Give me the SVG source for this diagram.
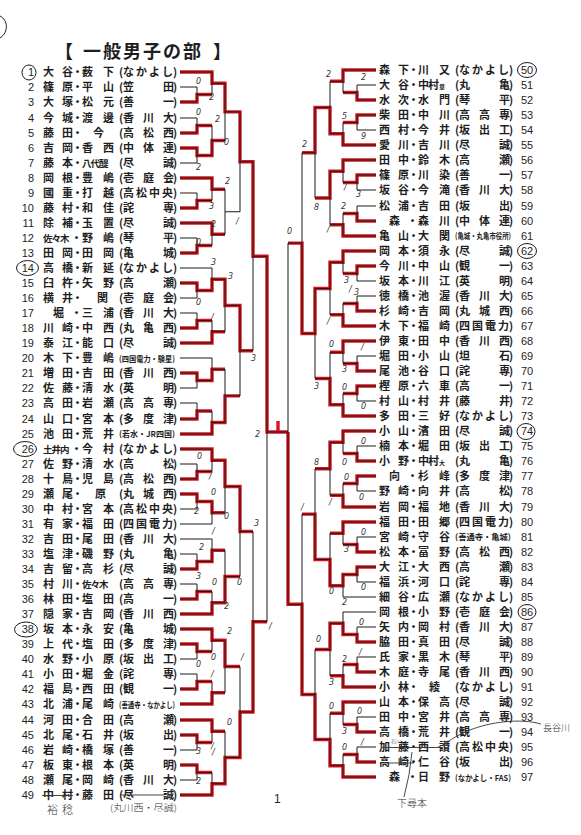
<svg xmlns="http://www.w3.org/2000/svg" width="581" height="835" viewBox="0 0 581 835">
<style>
.t{font-family:"Noto Sans CJK JP","Noto Sans CJK SC",sans-serif;font-size:11px;font-weight:700;fill:#1e1e1e}
.k{font-size:9.5px}
.k2{font-size:6px}
.s{font-family:"Noto Sans CJK JP","Noto Sans CJK SC",sans-serif;font-size:8px;font-weight:700;fill:#1e1e1e}
.nl{font-family:"Liberation Sans",Arial,sans-serif;font-size:11px;fill:#1e1e1e;text-anchor:end}
.nr{font-family:"Liberation Sans",Arial,sans-serif;font-size:11px;fill:#1e1e1e}
.hw{font-family:"DejaVu Sans",sans-serif;font-size:8px;font-style:italic;fill:#333}
.hn{font-family:"Noto Sans CJK JP",sans-serif;font-weight:300;fill:#333}
.ln{fill:none;stroke:#1a1a1a;stroke-width:1}
.rd{fill:none;stroke:#d9161e;stroke-width:3.4}
.ci{fill:none;stroke:#1a1a1a;stroke-width:1}
.pen{fill:none;stroke:#333;stroke-width:0.9}
</style>
<rect width="581" height="835" fill="#fff"/>
<g id="title"><text class="t" style="font-size:18px" x="55 83 103 123 143 163 183 213" y="57.5">【一般男子の部】</text></g>
<path class="ci" d="M0,16 C8,20 9,32 0,38"/>
<g id="connectors">
<g class="rd">
<path d="M180,72H212V83.25H225V111.9H240V161.8H253V256.25H267V432H288"/>
<path d="M180,102H197V94.5H212M180,133H197V125.5H212M180,148H197V155.5H212V140.5H225M180,208H197V200.5H212M180,178H212V189.25H225M180,253H197V245.5H212M180,223H212V234.25H225"/>
<path d="M180,283H197V290.5H212V279.25H225V305.5H240V350.7H253M180,328H197V320.5H212M180,343H212V331.75H225M180,373H197V380.5H212V369.25H225M180,419H197V411H212M180,434H212V422.5H225V395.9H240"/>
<path d="M180,449H212V460.25H225V486.5H240V531.5H253M180,479H197V471.5H212M180,494H197V501.5H212V512.75H225M180,569H197V561.5H212V550.25H225M180,599H197V591.5H212M180,614H212V602.75H225V576.5H240"/>
<path d="M180,629H212V640.25H225V666.5H240M180,644H197V651.5H212M180,689H197V681.5H212M180,704H212V692.75H225M180,720H212V731.25H225M180,735H197V742.5H212M180,765H197V772.5H212M180,795H212V783.75H225V757.5H240V712H253V621.75H267"/>
<path d="M376,70H343V81.25H330M376,100H357V92.5H343M376,115H357V122.5H343M376,145H343V133.75H330V107.5H315V152.75H302M376,160H343V171.25H330V198H315M376,175H357V182.5H343M376,221H357V213.5H343M376,236H343V224.75H330"/>
<path d="M376,251H343V262.25H330V288.5H315V333.5H302V243.1H288M376,266H357V273.5H343M376,311H357V303.5H343M376,326H343V314.75H330M376,341H343V352.25H330M376,371H357V363.5H343M376,386H357V393.5H343M376,416H343V404.75H330V378.5H315"/>
<path d="M376,431H343V442.25H330V468.75H315M376,461H357V453.5H343M376,476H357V483.5H343M376,507H343V495.25H330M376,522H343V533.25H330M376,552H357V544.5H343M376,567H357V574.5H343V585.75H330V559.5H315V514.1H302"/>
<path d="M376,642H357V634.5H343V623.25H330V649.5H315M376,672H357V664.5H343M376,687H343V675.75H330M376,702H343V713.25H330M376,732H357V724.5H343M376,762H357V754.5H343M376,777H343V765.75H330V739.5H315V694.5H302V604.3H288V432M278,432V421"/>
</g>
<g class="ln">
<path d="M180,72H212M180,87H197M180,102H197M180,118H197M180,133H197M180,148H197M180,163H197M180,178H212M180,193H197M180,208H197M180,223H212M180,238H197M180,253H197M197,87V102M197,94.5H212M197,118V133M197,125.5H212M197,148V163M197,155.5H212M197,193V208M197,200.5H212M197,238V253M197,245.5H212M212,72V94.5M212,83.25H225M212,125.5V155.5M212,140.5H225M212,178V200.5M212,189.25H225M212,223V245.5M212,234.25H225M225,83.25V140.5M225,111.9H240M225,189.25V234.25M225,211.75H240M240,111.9V211.75M240,161.8H253"/>
<path d="M180,268H212M180,283H197M180,298H197M180,313H197M180,328H197M180,343H212M180,358H212M180,373H197M180,388H197M180,403H197M180,419H197M180,434H212M197,283V298M197,290.5H212M197,313V328M197,320.5H212M197,373V388M197,380.5H212M197,403V419M197,411H212M212,268V290.5M212,279.25H225M212,320.5V343M212,331.75H225M212,358V380.5M212,369.25H225M212,411V434M212,422.5H225M225,279.25V331.75M225,305.5H240M225,369.25V422.5M225,395.9H240M240,305.5V395.9M240,350.7H253"/>
<path d="M180,449H212M180,464H197M180,479H197M180,494H197M180,509H197M180,524H212M180,539H212M180,554H197M180,569H197M180,584H197M180,599H197M180,614H212M197,464V479M197,471.5H212M197,494V509M197,501.5H212M197,554V569M197,561.5H212M197,584V599M197,591.5H212M212,449V471.5M212,460.25H225M212,501.5V524M212,512.75H225M212,539V561.5M212,550.25H225M212,591.5V614M212,602.75H225M225,460.25V512.75M225,486.5H240M225,550.25V602.75M225,576.5H240M240,486.5V576.5M240,531.5H253"/>
<path d="M180,629H212M180,644H197M180,659H197M180,674H197M180,689H197M180,704H212M180,720H212M180,735H197M180,750H197M180,765H197M180,780H197M180,795H212M197,644V659M197,651.5H212M197,674V689M197,681.5H212M197,735V750M197,742.5H212M197,765V780M197,772.5H212M212,629V651.5M212,640.25H225M212,681.5V704M212,692.75H225M212,720V742.5M212,731.25H225M212,772.5V795M212,783.75H225M225,640.25V692.75M225,666.5H240M225,731.25V783.75M225,757.5H240M240,666.5V757.5M240,712H253"/>
<path d="M253,161.8V350.7M253,256.25H267M253,531.5V712M253,621.75H267M267,256.25V621.75M267,432H288"/>
<path d="M376,70H343M376,85H357M376,100H357M376,115H357M376,130H357M376,145H343M376,160H343M376,175H357M376,190H357M376,206H357M376,221H357M376,236H343M357,85V100M357,92.5H343M357,115V130M357,122.5H343M357,175V190M357,182.5H343M357,206V221M357,213.5H343M343,70V92.5M343,81.25H330M343,122.5V145M343,133.75H330M343,160V182.5M343,171.25H330M343,213.5V236M343,224.75H330M330,81.25V133.75M330,107.5H315M330,171.25V224.75M330,198H315M315,107.5V198M315,152.75H302"/>
<path d="M376,251H343M376,266H357M376,281H357M376,296H357M376,311H357M376,326H343M376,341H343M376,356H357M376,371H357M376,386H357M376,401H357M376,416H343M357,266V281M357,273.5H343M357,296V311M357,303.5H343M357,356V371M357,363.5H343M357,386V401M357,393.5H343M343,251V273.5M343,262.25H330M343,303.5V326M343,314.75H330M343,341V363.5M343,352.25H330M343,393.5V416M343,404.75H330M330,262.25V314.75M330,288.5H315M330,352.25V404.75M330,378.5H315M315,288.5V378.5M315,333.5H302"/>
<path d="M376,431H343M376,446H357M376,461H357M376,476H357M376,491H357M376,507H343M376,522H343M376,537H357M376,552H357M376,567H357M376,582H357M376,597H343M357,446V461M357,453.5H343M357,476V491M357,483.5H343M357,537V552M357,544.5H343M357,567V582M357,574.5H343M343,431V453.5M343,442.25H330M343,483.5V507M343,495.25H330M343,522V544.5M343,533.25H330M343,574.5V597M343,585.75H330M330,442.25V495.25M330,468.75H315M330,533.25V585.75M330,559.5H315M315,468.75V559.5M315,514.1H302"/>
<path d="M376,612H343M376,627H357M376,642H357M376,657H357M376,672H357M376,687H343M376,702H343M376,717H357M376,732H357M376,747H357M376,762H357M376,777H343M357,627V642M357,634.5H343M357,657V672M357,664.5H343M357,717V732M357,724.5H343M357,747V762M357,754.5H343M343,612V634.5M343,623.25H330M343,664.5V687M343,675.75H330M343,702V724.5M343,713.25H330M343,754.5V777M343,765.75H330M330,623.25V675.75M330,649.5H315M330,713.25V765.75M330,739.5H315M315,649.5V739.5M315,694.5H302"/>
<path d="M302,152.75V333.5M302,243.1H288M302,514.1V694.5M302,604.3H288M288,243.1V604.3"/>
</g>
</g>
<g id="players">
<g id="p1"><text class="nl" x="34" y="76.3">1</text><ellipse class="ci" cx="29" cy="72.5" rx="7" ry="7.5"/><text class="t" x="43 62 72 82 103 119 123 136 149 162 173" y="76.3">大谷・薮下(なかよし)</text></g>
<g id="p2"><text class="nl" x="34" y="91.4">2</text><text class="t" x="43 62 72 82 103 119 123 163 173" y="91.4">篠原・平山(笠田)</text></g>
<g id="p3"><text class="nl" x="34" y="106.4">3</text><text class="t" x="43 62 72 82 103 119 123 163 173" y="106.4">大塚・松元(善一)</text></g>
<g id="p4"><text class="nl" x="34" y="121.5">4</text><text class="t" x="43 62 72 82 103 119 123 143 163 173" y="121.5">今城・渡邊(香川大)</text></g>
<g id="p5"><text class="nl" x="34" y="136.5">5</text><text class="t" x="43 62 72 93 119 123 143 163 173" y="136.5">藤田・今(高松西)</text></g>
<g id="p6"><text class="nl" x="34" y="151.6">6</text><text class="t" x="43 62 72 82 103 119 123 143 163 173" y="151.6">吉岡・香西(中体連)</text></g>
<g id="p7"><text class="nl" x="34" y="166.6">7</text><text class="t" y="166.6"><tspan x="43 62 72">藤本・</tspan><tspan class="k" x="82 90.5 99">八代醍</tspan><tspan x="119 123 163 173">(尽誠)</tspan></text></g>
<g id="p8"><text class="nl" x="34" y="181.7">8</text><text class="t" x="43 62 72 82 103 119 123 143 163 173" y="181.7">岡根・豊嶋(壱庭会)</text></g>
<g id="p9"><text class="nl" x="34" y="196.7">9</text><text class="t" x="43 62 72 82 103 119 123 136 149 162 173" y="196.7">國重・打越(高松中央)</text></g>
<g id="p10"><text class="nl" x="34" y="211.8">10</text><text class="t" x="43 62 72 82 103 119 123 163 173" y="211.8">藤村・和佳(詫専)</text></g>
<g id="p11"><text class="nl" x="34" y="226.8">11</text><text class="t" x="43 62 72 82 103 119 123 163 173" y="226.8">除補・玉置(尽誠)</text></g>
<g id="p12"><text class="nl" x="34" y="241.9">12</text><text class="t" y="241.9"><tspan class="k" x="43 51.5 60">佐々木</tspan><tspan x="71 82 103 119 123 163 173">・野嶋(琴平)</tspan></text></g>
<g id="p13"><text class="nl" x="34" y="256.9">13</text><text class="t" x="43 62 72 82 103 119 123 163 173" y="256.9">田岡・田岡(亀城)</text></g>
<g id="p14"><text class="nl" x="34" y="272">14</text><ellipse class="ci" cx="27.5" cy="268" rx="11" ry="7.5"/><text class="t" x="43 62 72 82 103 119 123 136 149 162 173" y="272">高橋・新延(なかよし)</text></g>
<g id="p15"><text class="nl" x="34" y="287">15</text><text class="t" x="43 62 72 82 103 119 123 163 173" y="287">臼杵・矢野(高瀬)</text></g>
<g id="p16"><text class="nl" x="34" y="302.1">16</text><text class="t" x="43 62 72 97 119 123 143 163 173" y="302.1">横井・関(壱庭会)</text></g>
<g id="p17"><text class="nl" x="34" y="317.1">17</text><text class="t" x="53 71 82 103 119 123 143 163 173" y="317.1">堀・三浦(香川大)</text></g>
<g id="p18"><text class="nl" x="34" y="332.2">18</text><text class="t" x="43 62 72 82 103 119 123 143 163 173" y="332.2">川崎・中西(丸亀西)</text></g>
<g id="p19"><text class="nl" x="34" y="347.2">19</text><text class="t" x="43 62 72 82 103 119 123 163 173" y="347.2">泰江・能口(尽誠)</text></g>
<g id="p20"><text class="nl" x="34" y="362.3">20</text><text class="t" x="43 62 72 82 103" y="362.3">木下・豊嶋</text><text class="s" x="119" y="361.8" textLength="56" lengthAdjust="spacingAndGlyphs">(四国電力・験星)</text></g>
<g id="p21"><text class="nl" x="34" y="377.3">21</text><text class="t" x="43 62 72 82 103 119 123 143 163 173" y="377.3">増田・吉田(香川西)</text></g>
<g id="p22"><text class="nl" x="34" y="392.4">22</text><text class="t" x="43 62 72 82 103 119 123 163 173" y="392.4">佐藤・清水(英明)</text></g>
<g id="p23"><text class="nl" x="34" y="407.4">23</text><text class="t" x="43 62 72 82 103 119 123 143 163 173" y="407.4">高田・岩瀬(高高専)</text></g>
<g id="p24"><text class="nl" x="34" y="422.5">24</text><text class="t" x="43 62 72 82 103 119 123 143 163 173" y="422.5">山口・宮本(多度津)</text></g>
<g id="p25"><text class="nl" x="34" y="437.5">25</text><text class="t" x="43 62 72 82 103" y="437.5">池田・荒井</text><text class="s" x="119" y="437" textLength="56" lengthAdjust="spacingAndGlyphs">(若水・JR四国)</text></g>
<g id="p26"><text class="nl" x="34" y="452.6">26</text><ellipse class="ci" cx="25" cy="449" rx="11.5" ry="7.5"/><text class="t" y="452.6"><tspan class="k" x="43 51.5 60">土井内</tspan><tspan x="71 82 103 119 123 136 149 162 173">・今村(なかよし)</tspan></text></g>
<g id="p27"><text class="nl" x="34" y="467.6">27</text><text class="t" x="43 62 72 82 103 119 123 163 173" y="467.6">佐野・清水(高松)</text></g>
<g id="p28"><text class="nl" x="34" y="482.7">28</text><text class="t" x="43 62 72 82 103 119 123 143 163 173" y="482.7">十鳥・児島(高松西)</text></g>
<g id="p29"><text class="nl" x="34" y="497.7">29</text><text class="t" x="43 62 72 95 119 123 143 163 173" y="497.7">瀬尾・原(丸城西)</text></g>
<g id="p30"><text class="nl" x="34" y="512.8">30</text><text class="t" x="43 62 72 82 103 119 123 136 149 162 173" y="512.8">中村・宮本(高松中央)</text></g>
<g id="p31"><text class="nl" x="34" y="527.8">31</text><text class="t" x="43 62 72 82 103 119 123 136 149 162 173" y="527.8">有家・福田(四国電力)</text></g>
<g id="p32"><text class="nl" x="34" y="542.9">32</text><text class="t" x="43 62 72 82 103 119 123 143 163 173" y="542.9">吉田・尾田(香川大)</text></g>
<g id="p33"><text class="nl" x="34" y="557.9">33</text><text class="t" x="43 62 72 82 103 119 123 163 173" y="557.9">塩津・磯野(丸亀)</text></g>
<g id="p34"><text class="nl" x="34" y="573">34</text><text class="t" x="43 62 72 82 103 119 123 163 173" y="573">吉留・高杉(尽誠)</text></g>
<g id="p35"><text class="nl" x="34" y="588">35</text><text class="t" y="588"><tspan x="43 62 72">村川・</tspan><tspan class="k" x="82 90.5 99">佐々木</tspan><tspan x="119 123 143 163 173">(高高専)</tspan></text></g>
<g id="p36"><text class="nl" x="34" y="603.1">36</text><text class="t" x="43 62 72 82 103 119 123 163 173" y="603.1">林田・塩田(高一)</text></g>
<g id="p37"><text class="nl" x="34" y="618.1">37</text><text class="t" x="43 62 72 82 103 119 123 143 163 173" y="618.1">隠家・吉岡(香川西)</text></g>
<g id="p38"><text class="nl" x="34" y="633.2">38</text><ellipse class="ci" cx="26" cy="629.5" rx="11.5" ry="7.5"/><text class="t" x="43 62 72 82 103 119 123 163 173" y="633.2">坂本・永安(亀城)</text></g>
<g id="p39"><text class="nl" x="34" y="648.2">39</text><text class="t" x="43 62 72 82 103 119 123 143 163 173" y="648.2">上代・塩田(多度津)</text></g>
<g id="p40"><text class="nl" x="34" y="663.3">40</text><text class="t" x="43 62 72 82 103 119 123 143 163 173" y="663.3">水野・小原(坂出工)</text></g>
<g id="p41"><text class="nl" x="34" y="678.3">41</text><text class="t" x="43 62 72 82 103 119 123 163 173" y="678.3">小田・堀金(詫専)</text></g>
<g id="p42"><text class="nl" x="34" y="693.4">42</text><text class="t" x="43 62 72 82 103 119 123 163 173" y="693.4">福島・西田(観一)</text></g>
<g id="p43"><text class="nl" x="34" y="708.4">43</text><text class="t" x="43 62 72 82 103" y="708.4">北浦・尾崎</text><text class="s" x="119" y="707.9" textLength="56" lengthAdjust="spacingAndGlyphs">(善通寺・なかよし)</text></g>
<g id="p44"><text class="nl" x="34" y="723.5">44</text><text class="t" x="43 62 72 82 103 119 123 163 173" y="723.5">河田・合田(高瀬)</text></g>
<g id="p45"><text class="nl" x="34" y="738.5">45</text><text class="t" x="43 62 72 82 103 119 123 163 173" y="738.5">北尾・石井(坂出)</text></g>
<g id="p46"><text class="nl" x="34" y="753.6">46</text><text class="t" x="43 62 72 82 103 119 123 163 173" y="753.6">岩崎・橋塚(善一)</text></g>
<g id="p47"><text class="nl" x="34" y="768.6">47</text><text class="t" x="43 62 72 82 103 119 123 163 173" y="768.6">板東・根本(英明)</text></g>
<g id="p48"><text class="nl" x="34" y="783.7">48</text><text class="t" x="43 62 72 82 103 119 123 143 163 173" y="783.7">瀬尾・岡崎(香川大)</text></g>
<g id="p49"><text class="nl" x="34" y="798.7">49</text><text class="t" x="43 62 72 82 103 119 123 163 173" y="798.7">中村・藤田(尽誠)</text><path class="pen" d="M42,795.5H73M121,795H164"/></g>

<g id="p50"><text class="t" x="379 398 408 418 439 455 459 472 485 498 509" y="74">森下・川又(なかよし)</text><text class="nr" x="521" y="74">50</text><ellipse class="ci" cx="527" cy="70" rx="9.5" ry="7.5"/></g>
<g id="p51"><text class="t" y="89.1"><tspan x="379 398 408 418 428">大谷・中村</tspan><tspan class="k2" x="439">章</tspan><tspan x="455 459 499 509">(丸亀)</tspan></text><text class="nr" x="521" y="89.1">51</text></g>
<g id="p52"><text class="t" x="379 398 408 418 439 455 459 499 509" y="104.1">水次・水門(琴平)</text><text class="nr" x="521" y="104.1">52</text></g>
<g id="p53"><text class="t" x="379 398 408 418 439 455 459 479 499 509" y="119.2">柴田・中川(高高専)</text><text class="nr" x="521" y="119.2">53</text></g>
<g id="p54"><text class="t" x="379 398 408 418 439 455 459 479 499 509" y="134.2">西村・今井(坂出工)</text><text class="nr" x="521" y="134.2">54</text></g>
<g id="p55"><text class="t" x="379 398 408 418 439 455 459 499 509" y="149.3">愛川・吉川(尽誠)</text><text class="nr" x="521" y="149.3">55</text></g>
<g id="p56"><text class="t" x="379 398 408 418 439 455 459 499 509" y="164.3">田中・鈴木(高瀬)</text><text class="nr" x="521" y="164.3">56</text></g>
<g id="p57"><text class="t" x="379 398 408 418 439 455 459 499 509" y="179.4">篠原・川染(善一)</text><text class="nr" x="521" y="179.4">57</text></g>
<g id="p58"><text class="t" x="379 398 408 418 439 455 459 479 499 509" y="194.4">坂谷・今滝(香川大)</text><text class="nr" x="521" y="194.4">58</text></g>
<g id="p59"><text class="t" x="379 398 408 418 439 455 459 499 509" y="209.5">松浦・吉田(坂出)</text><text class="nr" x="521" y="209.5">59</text></g>
<g id="p60"><text class="t" x="389 407 418 439 455 459 479 499 509" y="224.5">森・森川(中体連)</text><text class="nr" x="521" y="224.5">60</text></g>
<g id="p61"><text class="t" x="379 398 408 418 439" y="239.6">亀山・大関</text><text class="s" x="455" y="239.1" textLength="56" lengthAdjust="spacingAndGlyphs">(亀城・丸亀市役所)</text><text class="nr" x="521" y="239.6">61</text></g>
<g id="p62"><text class="t" x="379 398 408 418 439 455 459 499 509" y="254.6">岡本・須永(尽誠)</text><text class="nr" x="521" y="254.6">62</text><ellipse class="ci" cx="527" cy="251" rx="9.5" ry="7.5"/></g>
<g id="p63"><text class="t" x="379 398 408 418 439 455 459 499 509" y="269.7">今川・中山(観一)</text><text class="nr" x="521" y="269.7">63</text></g>
<g id="p64"><text class="t" x="379 398 408 418 439 455 459 499 509" y="284.7">坂本・川江(英明)</text><text class="nr" x="521" y="284.7">64</text></g>
<g id="p65"><text class="t" x="379 398 408 418 439 455 459 479 499 509" y="299.8">徳橋・池渥(香川大)</text><text class="nr" x="521" y="299.8">65</text></g>
<g id="p66"><text class="t" x="379 398 408 418 439 455 459 479 499 509" y="314.8">杉崎・吉岡(丸城西)</text><text class="nr" x="521" y="314.8">66</text></g>
<g id="p67"><text class="t" x="379 398 408 418 439 455 459 472 485 498 509" y="329.9">木下・福崎(四国電力)</text><text class="nr" x="521" y="329.9">67</text></g>
<g id="p68"><text class="t" x="379 398 408 418 439 455 459 479 499 509" y="344.9">伊東・田中(香川西)</text><text class="nr" x="521" y="344.9">68</text></g>
<g id="p69"><text class="t" x="379 398 408 418 439 455 459 499 509" y="360">堀田・小山(坦石)</text><text class="nr" x="521" y="360">69</text></g>
<g id="p70"><text class="t" x="379 398 408 418 439 455 459 499 509" y="375">尾池・谷口(詫専)</text><text class="nr" x="521" y="375">70</text></g>
<g id="p71"><text class="t" x="379 398 408 418 439 455 459 499 509" y="390.1">樫原・六車(高一)</text><text class="nr" x="521" y="390.1">71</text></g>
<g id="p72"><text class="t" x="379 398 408 418 439 455 459 499 509" y="405.1">村山・村井(藤井)</text><text class="nr" x="521" y="405.1">72</text></g>
<g id="p73"><text class="t" x="379 398 408 418 439 455 459 472 485 498 509" y="420.2">多田・三好(なかよし)</text><text class="nr" x="521" y="420.2">73</text></g>
<g id="p74"><text class="t" x="379 398 408 418 439 455 459 499 509" y="435.2">小山・濱田(尽誠)</text><text class="nr" x="521" y="435.2">74</text><ellipse class="ci" cx="526" cy="431.5" rx="9" ry="8"/></g>
<g id="p75"><text class="t" x="379 398 408 418 439 455 459 479 499 509" y="450.3">楠本・堀田(坂出工)</text><text class="nr" x="521" y="450.3">75</text></g>
<g id="p76"><text class="t" y="465.3"><tspan x="379 398 408 418 428">小野・中村</tspan><tspan class="k2" x="439">大</tspan><tspan x="455 459 499 509">(丸亀)</tspan></text><text class="nr" x="521" y="465.3">76</text></g>
<g id="p77"><text class="t" x="389 407 418 439 455 459 479 499 509" y="480.4">向・杉峰(多度津)</text><text class="nr" x="521" y="480.4">77</text></g>
<g id="p78"><text class="t" x="379 398 408 418 439 455 459 499 509" y="495.4">野崎・向井(高松)</text><text class="nr" x="521" y="495.4">78</text></g>
<g id="p79"><text class="t" x="379 398 408 418 439 455 459 479 499 509" y="510.5">岩岡・福地(香川大)</text><text class="nr" x="521" y="510.5">79</text></g>
<g id="p80"><text class="t" x="379 398 408 418 439 455 459 472 485 498 509" y="525.5">福田・田郷(四国電力)</text><text class="nr" x="521" y="525.5">80</text></g>
<g id="p81"><text class="t" x="379 398 408 418 439" y="540.6">宮崎・守谷</text><text class="s" x="455" y="540.1" textLength="56" lengthAdjust="spacingAndGlyphs">(善通寺・亀城)</text><text class="nr" x="521" y="540.6">81</text></g>
<g id="p82"><text class="t" x="379 398 408 418 439 455 459 479 499 509" y="555.6">松本・冨野(高松西)</text><text class="nr" x="521" y="555.6">82</text></g>
<g id="p83"><text class="t" x="379 398 408 418 439 455 459 499 509" y="570.7">大江・大西(高瀬)</text><text class="nr" x="521" y="570.7">83</text></g>
<g id="p84"><text class="t" x="379 398 408 418 439 455 459 499 509" y="585.7">福浜・河口(詫専)</text><text class="nr" x="521" y="585.7">84</text></g>
<g id="p85"><text class="t" x="379 398 408 418 439 455 459 472 485 498 509" y="600.8">細谷・広瀬(なかよし)</text><text class="nr" x="521" y="600.8">85</text></g>
<g id="p86"><text class="t" x="379 398 408 418 439 455 459 479 499 509" y="615.8">岡根・小野(壱庭会)</text><text class="nr" x="521" y="615.8">86</text><ellipse class="ci" cx="527" cy="612" rx="9" ry="7.5"/></g>
<g id="p87"><text class="t" x="379 398 408 418 439 455 459 479 499 509" y="630.9">矢内・岡村(香川大)</text><text class="nr" x="521" y="630.9">87</text></g>
<g id="p88"><text class="t" x="379 398 408 418 439 455 459 499 509" y="645.9">脇田・真田(尽誠)</text><text class="nr" x="521" y="645.9">88</text></g>
<g id="p89"><text class="t" x="379 398 408 418 439 455 459 499 509" y="661">氏家・黒木(琴平)</text><text class="nr" x="521" y="661">89</text></g>
<g id="p90"><text class="t" x="379 398 408 418 439 455 459 479 499 509" y="676">木庭・寺尾(香川西)</text><text class="nr" x="521" y="676">90</text></g>
<g id="p91"><text class="t" x="379 398 408 429 455 459 472 485 498 509" y="691.1">小林・綾(なかよし)</text><text class="nr" x="521" y="691.1">91</text></g>
<g id="p92"><text class="t" x="379 398 408 418 439 455 459 499 509" y="706.1">山本・保高(尽誠)</text><text class="nr" x="521" y="706.1">92</text></g>
<g id="p93"><text class="t" x="379 398 408 418 439 455 459 479 499 509" y="721.2">田中・宮井(高高専)</text><text class="nr" x="521" y="721.2">93</text></g>
<g id="p94"><text class="t" x="379 398 408 418 439 455 459 499 509" y="736.2">高橋・荒井(観一)</text><text class="nr" x="521" y="736.2">94</text></g>
<g id="p95"><text class="t" x="379 398 408 418 439 455 459 472 485 498 509" y="751.3">加藤・西讃(高松中央)</text><text class="nr" x="521" y="751.3">95</text><path class="pen" d="M382,747.5H442"/></g>
<g id="p96"><text class="t" x="379 398 408 418 439 455 459 499 509" y="766.3">高崎・仁谷(坂出)</text><text class="nr" x="521" y="766.3">96</text><path class="pen" d="M380,763H414"/></g>
<g id="p97"><text class="t" x="389 407 418 439" y="781.4">森・日野</text><text class="s" x="455" y="780.9" textLength="56" lengthAdjust="spacingAndGlyphs">(なかよし・FAS)</text><text class="nr" x="521" y="781.4">97</text></g>
</g>
<g id="scores" class="hw">
<text x="196" y="84">0</text><text x="209" y="100">2</text><text x="196" y="115">0</text><text x="215" y="122">2</text><text x="224" y="145">0</text><text x="196" y="170">2</text><text x="225" y="184">2</text><text x="209" y="209">3</text><text x="211" y="227">2</text><text x="196" y="245">0</text><text x="236" y="224">/</text>
<text x="211" y="265">3</text><text x="228" y="279">3</text><text x="196" y="305">0</text><text x="211" y="320">/</text><text x="251" y="361">3</text><text x="255" y="437">2</text>
<text x="197" y="459">0</text><text x="209" y="479">/</text><text x="211" y="495">0</text><text x="194" y="514">2</text><text x="224" y="519">0</text><text x="254" y="526">3</text><text x="212" y="534">/</text><text x="199" y="550">2</text><text x="196" y="579">3</text><text x="212" y="585">0</text><text x="237" y="585">0</text><text x="224" y="609">2</text><text x="269" y="629">/</text><text x="227" y="634">2</text><text x="211" y="660">0</text><text x="196" y="667">0</text><text x="211" y="677">/</text><text x="241" y="660">/</text><text x="227" y="725">0</text><text x="211" y="749">/</text><text x="196" y="754">3</text><text x="212" y="755">/</text><text x="196" y="784">2</text>
<text x="326" y="77">2</text><text x="361" y="80">2</text><text x="342" y="119">5</text><text x="361" y="139">9</text><text x="302" y="147">2</text><text x="314" y="210">8</text><text x="344" y="190">/</text><text x="356" y="197">3</text><text x="341" y="209">2</text><text x="327" y="232">/</text><text x="287" y="234">0</text>
<text x="344" y="283">3</text><text x="349" y="292">/</text><text x="354" y="295">3</text><text x="327" y="324">/</text><text x="329" y="347">0</text><text x="361" y="350">/</text><text x="342" y="372">3</text><text x="314" y="389">3</text><text x="342" y="390">0</text><text x="361" y="409">0</text>
<text x="361" y="444">0</text><text x="342" y="465">0</text><text x="314" y="465">8</text><text x="301" y="510">/</text><text x="344" y="480">0</text><text x="359" y="500">0</text><text x="329" y="505">/</text><text x="361" y="535">0</text><text x="344" y="552">3</text><text x="329" y="594">0</text><text x="361" y="590">0</text><text x="342" y="605">2</text>
<text x="359" y="625">0</text><text x="316" y="642">0</text><text x="342" y="662">2</text><text x="359" y="655">/</text><text x="329" y="685">3</text><text x="329" y="709">0</text><text x="357" y="714">0</text><text x="342" y="734">3</text><text x="342" y="750">0</text><text x="361" y="745">/</text>
</g>
<g id="notes">
<text class="nr" x="274" y="803" style="font-size:12px">1</text>
<text class="hn" x="47 62" y="814" style="font-size:11px">裕稔</text>
<text class="hn" x="110" y="811" style="font-size:9px" textLength="67" lengthAdjust="spacingAndGlyphs">(丸川西・尽誠)</text>
<text class="hn" x="397" y="807" style="font-size:10px">下尋本</text>
<text class="hn" x="543" y="731" style="font-size:9px">長谷川</text>
<text class="hn" x="391" y="742.6" style="font-size:5px">石川</text>
<path class="pen" d="M541,724 C520,718 490,722 470,730 S447,744 438,747"/>
<path class="pen" d="M412,752 Q410,775 404,797"/>
</g>
</svg>
